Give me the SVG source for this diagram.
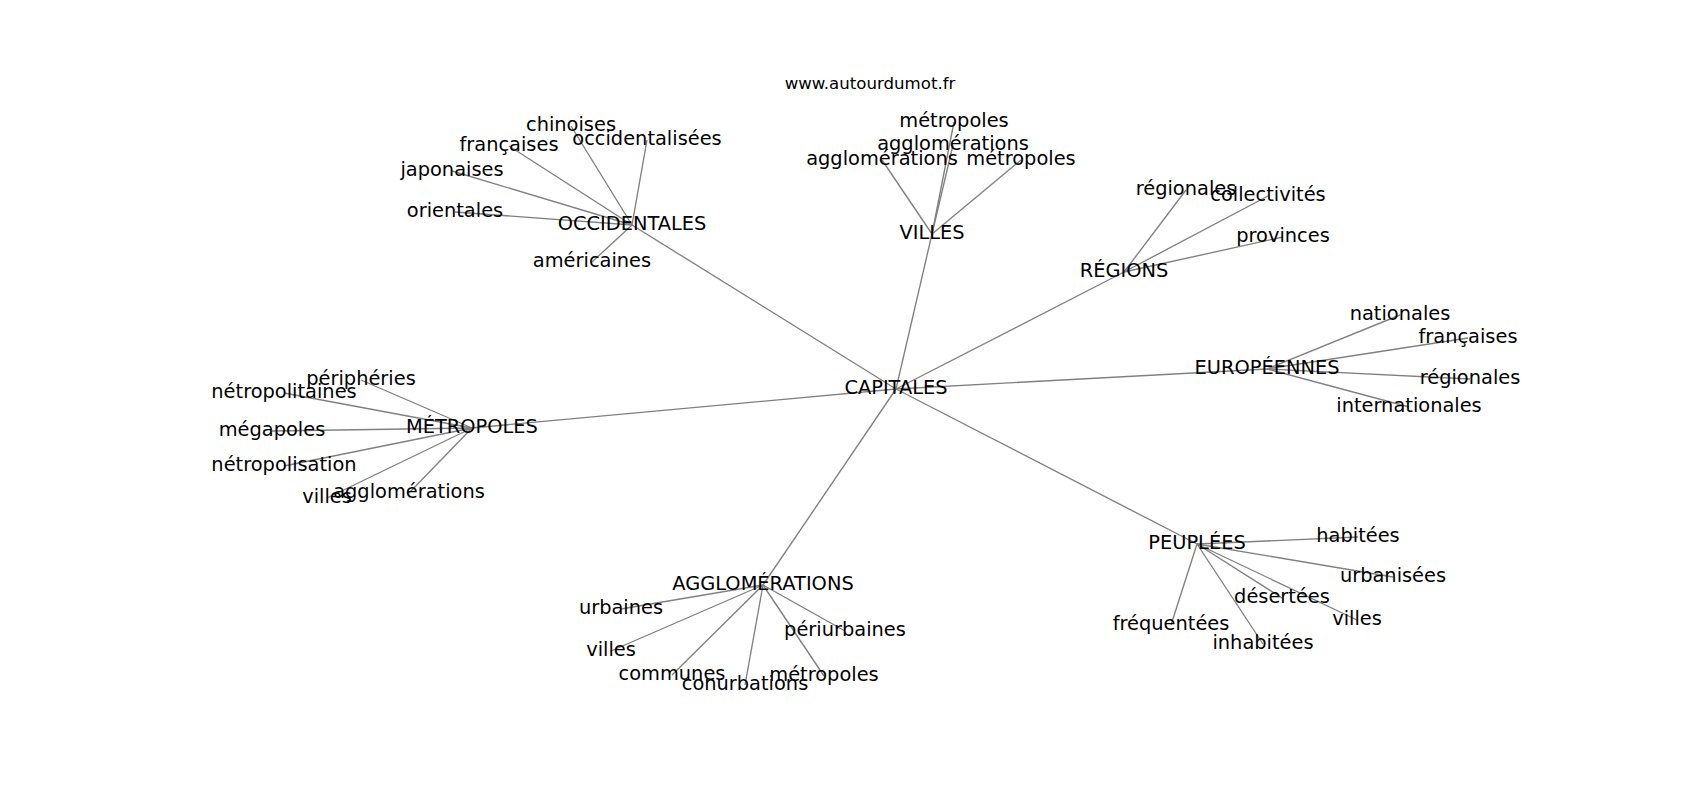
<svg xmlns="http://www.w3.org/2000/svg" width="1700" height="800" viewBox="0 0 1700 800">
<style>
text{font-family:"DejaVu Sans","Liberation Sans",sans-serif;font-size:19.4px;fill:#000;text-anchor:middle}
.t{font-size:16.6px}
#edges line{stroke:#808080;stroke-width:1.35}
</style>
<rect width="1700" height="800" fill="#fff"/>
<text class="t" x="870" y="89">www.autourdumot.fr</text>
<g id="edges">
<line x1="896" y1="389" x2="632" y2="225"/>
<line x1="896" y1="389" x2="932" y2="234"/>
<line x1="896" y1="389" x2="1124" y2="272"/>
<line x1="896" y1="389" x2="1267" y2="369"/>
<line x1="896" y1="389" x2="472" y2="428"/>
<line x1="896" y1="389" x2="763" y2="585"/>
<line x1="896" y1="389" x2="1197" y2="544"/>
<line x1="632" y1="225" x2="571" y2="126"/>
<line x1="632" y1="225" x2="509" y2="146"/>
<line x1="632" y1="225" x2="647" y2="140"/>
<line x1="632" y1="225" x2="452" y2="171"/>
<line x1="632" y1="225" x2="455" y2="212"/>
<line x1="632" y1="225" x2="592" y2="262"/>
<line x1="932" y1="234" x2="954" y2="122"/>
<line x1="932" y1="234" x2="953" y2="145"/>
<line x1="932" y1="234" x2="882" y2="160"/>
<line x1="932" y1="234" x2="1021" y2="160"/>
<line x1="1124" y1="272" x2="1186" y2="190"/>
<line x1="1124" y1="272" x2="1268" y2="196"/>
<line x1="1124" y1="272" x2="1283" y2="237"/>
<line x1="1267" y1="369" x2="1400" y2="315"/>
<line x1="1267" y1="369" x2="1468" y2="338"/>
<line x1="1267" y1="369" x2="1470" y2="379"/>
<line x1="1267" y1="369" x2="1409" y2="407"/>
<line x1="472" y1="428" x2="361" y2="380"/>
<line x1="472" y1="428" x2="284" y2="393"/>
<line x1="472" y1="428" x2="272" y2="431"/>
<line x1="472" y1="428" x2="284" y2="466"/>
<line x1="472" y1="428" x2="327" y2="498"/>
<line x1="472" y1="428" x2="409" y2="493"/>
<line x1="763" y1="585" x2="621" y2="609"/>
<line x1="763" y1="585" x2="611" y2="651"/>
<line x1="763" y1="585" x2="672" y2="675"/>
<line x1="763" y1="585" x2="745" y2="685"/>
<line x1="763" y1="585" x2="824" y2="676"/>
<line x1="763" y1="585" x2="845" y2="631"/>
<line x1="1197" y1="544" x2="1358" y2="537"/>
<line x1="1197" y1="544" x2="1393" y2="577"/>
<line x1="1197" y1="544" x2="1282" y2="598"/>
<line x1="1197" y1="544" x2="1357" y2="620"/>
<line x1="1197" y1="544" x2="1171" y2="625"/>
<line x1="1197" y1="544" x2="1263" y2="644"/>
</g>
<g id="n-capitales"><text x="896" y="393.5">CAPITALES</text></g>
<g id="n-occidentales"><text x="632" y="229.5">OCCIDENTALES</text></g>
<g id="n-villes"><text x="932" y="238.5">VILLES</text></g>
<g id="n-regions"><text x="1124" y="276.5">RÉGIONS</text></g>
<g id="n-europeennes"><text x="1267" y="373.5">EUROPÉENNES</text></g>
<g id="n-metropoles"><text x="472" y="432.5">MÉTROPOLES</text></g>
<g id="n-agglomerations"><text x="763" y="589.5">AGGLOMÉRATIONS</text></g>
<g id="n-peuplees"><text x="1197" y="548.5">PEUPLÉES</text></g>
<g id="l-occ-chinoises"><text x="571" y="130.5">chinoises</text></g>
<g id="l-occ-francaises"><text x="509" y="150.5">françaises</text></g>
<g id="l-occ-occidentalisees"><text x="647" y="144.5">occidentalisées</text></g>
<g id="l-occ-japonaises"><text x="452" y="175.5">japonaises</text></g>
<g id="l-occ-orientales"><text x="455" y="216.5">orientales</text></g>
<g id="l-occ-americaines"><text x="592" y="266.5">américaines</text></g>
<g id="l-vil-metropoles1"><text x="954" y="126.5">métropoles</text></g>
<g id="l-vil-agglomerations1"><text x="953" y="149.5">agglomérations</text></g>
<g id="l-vil-agglomerations2"><text x="882" y="164.5">agglomérations</text></g>
<g id="l-vil-metropoles2"><text x="1021" y="164.5">métropoles</text></g>
<g id="l-reg-regionales"><text x="1186" y="194.5">régionales</text></g>
<g id="l-reg-collectivites"><text x="1268" y="200.5">collectivités</text></g>
<g id="l-reg-provinces"><text x="1283" y="241.5">provinces</text></g>
<g id="l-eur-nationales"><text x="1400" y="319.5">nationales</text></g>
<g id="l-eur-francaises"><text x="1468" y="342.5">françaises</text></g>
<g id="l-eur-regionales"><text x="1470" y="383.5">régionales</text></g>
<g id="l-eur-internationales"><text x="1409" y="411.5">internationales</text></g>
<g id="l-met-peripheries"><text x="361" y="384.5">périphéries</text></g>
<g id="l-met-netropolitaines"><text x="284" y="397.5">nétropolitaines</text></g>
<g id="l-met-megapoles"><text x="272" y="435.5">mégapoles</text></g>
<g id="l-met-netropolisation"><text x="284" y="470.5">nétropolisation</text></g>
<g id="l-met-villes"><text x="327" y="502.5">villes</text></g>
<g id="l-met-agglomerations"><text x="409" y="497.5">agglomérations</text></g>
<g id="l-agg-urbaines"><text x="621" y="613.5">urbaines</text></g>
<g id="l-agg-villes"><text x="611" y="655.5">villes</text></g>
<g id="l-agg-communes"><text x="672" y="679.5">communes</text></g>
<g id="l-agg-conurbations"><text x="745" y="689.5">conurbations</text></g>
<g id="l-agg-metropoles"><text x="824" y="680.5">métropoles</text></g>
<g id="l-agg-periurbaines"><text x="845" y="635.5">périurbaines</text></g>
<g id="l-peu-habitees"><text x="1358" y="541.5">habitées</text></g>
<g id="l-peu-urbanisees"><text x="1393" y="581.5">urbanisées</text></g>
<g id="l-peu-desertees"><text x="1282" y="602.5">désertées</text></g>
<g id="l-peu-villes"><text x="1357" y="624.5">villes</text></g>
<g id="l-peu-frequentees"><text x="1171" y="629.5">fréquentées</text></g>
<g id="l-peu-inhabitees"><text x="1263" y="648.5">inhabitées</text></g>
</svg>
